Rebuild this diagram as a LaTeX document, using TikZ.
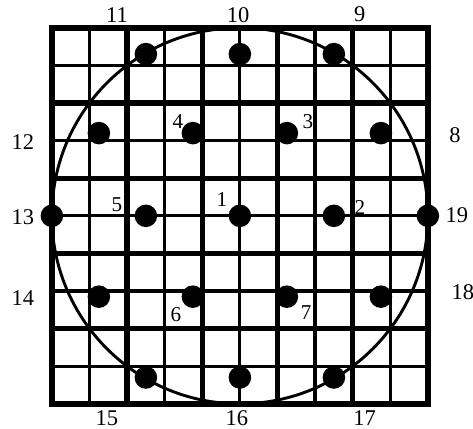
\documentclass[tikz,border=0pt]{standalone}
\usepackage{fontspec}
\setmainfont{Liberation Serif}
\begin{document}
\begin{tikzpicture}[x=1cm,y=1cm,
  thinline/.style={line width=2.4pt},
  thickline/.style={line width=4pt},
  frame/.style={line width=4.8pt},
  ring/.style={line width=2.2pt},
  dot/.style={circle,fill=black,inner sep=0pt,minimum size=0.6cm},
  outlab/.style={font=\fontsize{17}{19}\selectfont,inner sep=0pt},
  inlab/.style={font=\fontsize{16}{18}\selectfont,inner sep=0pt}]
\useasboundingbox[fill=white] (-6.38,-5.66) rectangle (6.20,5.74);
% grid
\foreach \k in {-4,-2,0,2,4} {
  \draw[thinline] (\k,-5) -- (\k,5);
  \draw[thinline] (-5,\k) -- (5,\k);
}
\foreach \k in {-3,-1,1,3} {
  \draw[thickline] (\k,-5) -- (\k,5);
  \draw[thickline] (-5,\k) -- (5,\k);
}
\draw[frame] (-5,-5) rectangle (5,5);
\draw[ring] (0,0) circle (5);
% dots
\node[dot] (d1) at (0,0) {};
\node[dot] (d2) at (2.5,0) {};
\node[dot] (d3) at (1.25,2.2) {};
\node[dot] (d4) at (-1.25,2.2) {};
\node[dot] (d5) at (-2.5,0) {};
\node[dot] (d6) at (-1.25,-2.15) {};
\node[dot] (d7) at (1.25,-2.15) {};
\node[dot] (d8) at (3.75,2.2) {};
\node[dot] (d9) at (2.5,4.3) {};
\node[dot] (d10) at (0,4.3) {};
\node[dot] (d11) at (-2.5,4.3) {};
\node[dot] (d12) at (-3.75,2.2) {};
\node[dot] (d13) at (-5,0) {};
\node[dot] (d14) at (-3.75,-2.15) {};
\node[dot] (d15) at (-2.5,-4.3) {};
\node[dot] (d16) at (0,-4.3) {};
\node[dot] (d17) at (2.5,-4.3) {};
\node[dot] (d18) at (3.75,-2.15) {};
\node[dot] (d19) at (5,0) {};
% labels
\node[inlab] (l1) at (-0.48,0.43) {1};
\node[inlab] (l2) at (3.19,0.21) {2};
\node[inlab] (l3) at (1.81,2.5) {3};
\node[inlab] (l4) at (-1.65,2.5) {4};
\node[inlab] (l5) at (-3.27,0.29) {5};
\node[inlab] (l6) at (-1.70,-2.63) {6};
\node[inlab] (l7) at (1.76,-2.58) {7};
\node[outlab] (l8) at (5.72,2.15) {8};
\node[outlab] (l9) at (3.19,5.35) {9};
\node[outlab] (l10) at (-0.05,5.35) {10};
\node[outlab] (l11) at (-3.27,5.35) {11};
\node[outlab] (l12) at (-5.77,1.97) {12};
\node[outlab] (l13) at (-5.77,-0.03) {13};
\node[outlab] (l14) at (-5.77,-2.18) {14};
\node[outlab] (l15) at (-3.54,-5.37) {15};
\node[outlab] (l16) at (-0.08,-5.37) {16};
\node[outlab] (l17) at (3.32,-5.37) {17};
\node[outlab] (l18) at (5.93,-2.02) {18};
\node[outlab] (l19) at (5.77,0.03) {19};
\end{tikzpicture}
\end{document}
